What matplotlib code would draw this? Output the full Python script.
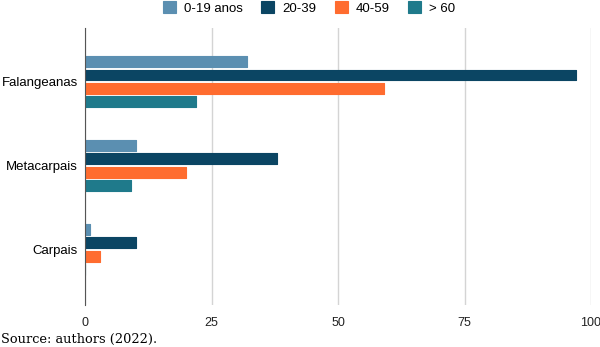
import matplotlib.pyplot as plt
import numpy as np

categories = ["Falangeanas", "Metacarpais", "Carpais"]
series_labels = ["0-19 anos", "20-39", "40-59", "> 60"]
values_0_19 = [32, 10, 1]
values_20_39 = [97, 38, 10]
values_40_59 = [59, 20, 3]
values_60 = [22, 9, 0]
colors = ["#5b8fb1", "#0b4563", "#ff6c2f", "#1f7a8b"]

series = [values_0_19, values_20_39, values_40_59, values_60]

plt.rcParams["font.family"] = ["Liberation Sans", "DejaVu Sans"]

fig = plt.figure(figsize=(6, 3.47), dpi=100)
ax = fig.add_axes([85 / 600, 1 - 305 / 347, 506 / 600, 277 / 347])

y = np.arange(len(categories))
step = 0.16
bar_h = 0.13
for i, (vals, lab, c) in enumerate(zip(series, series_labels, colors)):
    ax.barh(y + (i - 1.5) * step, vals, height=bar_h, color=c, label=lab,
            edgecolor=c, linewidth=0.8, joinstyle="round", zorder=3)

ax.set_xlim(0, 100)
ax.set_ylim(2.66, -0.64)
ax.set_xticks([0, 25, 50, 75, 100])
ax.set_yticks(y)
ax.set_yticklabels(categories, fontsize=9.5)
ax.tick_params(axis="x", length=0, labelsize=9, pad=9, colors="#222222")
ax.tick_params(axis="y", length=0, pad=5)
ax.grid(axis="x", color="#d4d4d4", linewidth=1, zorder=0)
for s in ["top", "right", "bottom"]:
    ax.spines[s].set_visible(False)
ax.spines["left"].set_color("#555555")
ax.spines["left"].set_zorder(4)

fig.legend(loc="upper center", bbox_to_anchor=(0.515, 1.03), ncol=4, frameon=False,
           fontsize=9.5, handlelength=1.0, handleheight=1.0, handletextpad=0.6,
           columnspacing=1.4)

fig.text(0.002, 0.012, "Source: authors (2022).", family="DejaVu Serif", fontsize=9.3)

fig.savefig("out.png", dpi=100)
